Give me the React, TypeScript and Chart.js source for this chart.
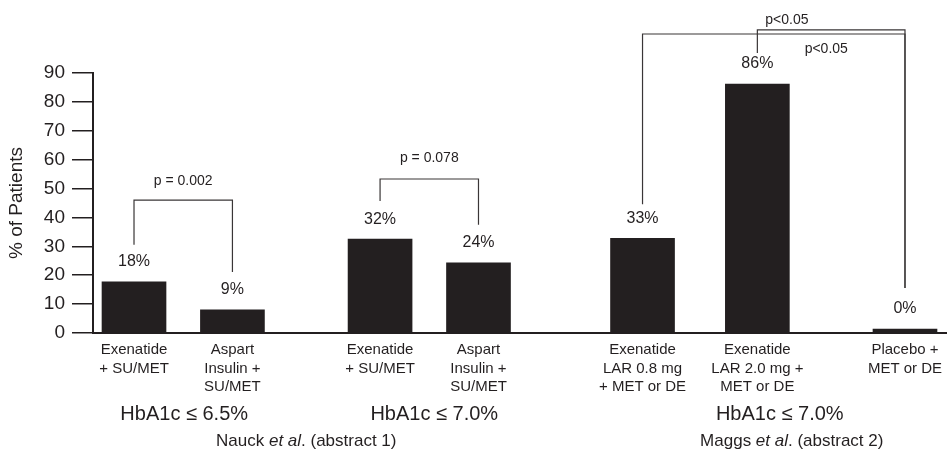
import { useEffect, useRef } from "react";
import { Chart, registerables } from "chart.js";

Chart.register(...registerables);

// ---- data ----
const categories: string[][] = [
  ["Exenatide", "+ SU/MET"],
  ["Aspart", "Insulin +", "SU/MET"],
  ["Exenatide", "+ SU/MET"],
  ["Aspart", "Insulin +", "SU/MET"],
  ["Exenatide", "LAR 0.8 mg", "+ MET or DE"],
  ["Exenatide", "LAR 2.0 mg +", "MET or DE"],
  ["Placebo +", "MET or DE"],
];
const values = [17.7, 8.0, 32.5, 24.3, 32.8, 86.2, 1.4];
const valueLabels = ["18%", "9%", "32%", "24%", "33%", "86%", "0%"];
// empty category slots placed before each bar (spacing of the groups)
const spacersBefore = [2, 5, 8, 5, 9, 6, 8];
const spacersAfter = 2;

const yTicksMax = 90;
const yTicksStep = 10;
const yTitle = "% of Patients";

const criteria = ["HbA1c ≤ 6.5%", "HbA1c ≤ 7.0%", "HbA1c ≤ 7.0%"];
const criteriaBars = [[0, 1], [2, 3], [4, 6]];
const criteriaShift = [1, 5, 6];

const studyNames = ["Nauck", "Maggs"];
const studyRefs = ["(abstract 1)", "(abstract 2)"];
const studyBars = [[0, 3], [4, 6]];
const studyShift = [0, 18];

const comparisons = [
  { from: 0, to: 1, level: 46, label: "p = 0.002", labelAt: 0.5, labelDy: -19, dropFrom: 37, dropTo: 38 },
  { from: 2, to: 3, level: 53.3, label: "p = 0.078", labelAt: 0.5, labelDy: -21, dropFrom: 38, dropTo: 38 },
  { from: 5, to: 6, level: 104.9, label: "p<0.05", labelAt: 0.2, labelDy: -10, dropFrom: 31, dropTo: 41 },
  { from: 4, to: 6, level: 103.5, label: "p<0.05", labelAt: 0.7, labelDy: 15, dropFrom: 34, dropTo: 41 },
];

const FONT = "'Liberation Sans', Arial, Helvetica, sans-serif";
const INK = "#231f20";
const LINE = "#3a3637";

export default function App() {
  const ref = useRef<HTMLCanvasElement>(null);

  useEffect(() => {
    const labels: (string | string[])[] = [];
    const data: (number | null)[] = [];
    const barSlots: number[] = [];
    categories.forEach((c, i) => {
      for (let s = 0; s < spacersBefore[i]; s++) {
        labels.push("");
        data.push(null);
      }
      barSlots.push(labels.length);
      labels.push(c);
      data.push(values[i]);
    });
    for (let s = 0; s < spacersAfter; s++) {
      labels.push("");
      data.push(null);
    }

    const annotations = {
      id: "annotations",
      afterDraw(chart: any) {
        const ctx: CanvasRenderingContext2D = chart.ctx;
        const meta = chart.getDatasetMeta(0);
        const ys = chart.scales.y;
        const bars = barSlots.map((i) => meta.data[i] as any);
        ctx.save();
        ctx.fillStyle = INK;
        ctx.textAlign = "center";
        ctx.textBaseline = "middle";

        // value labels
        ctx.font = `16px ${FONT}`;
        bars.forEach((b, i) => ctx.fillText(valueLabels[i], b.x, b.y - 20));

        // significance brackets
        ctx.strokeStyle = LINE;
        ctx.lineWidth = 1.2;
        ctx.font = `14px ${FONT}`;
        comparisons.forEach((c) => {
          const A = bars[c.from];
          const B = bars[c.to];
          const yl = ys.getPixelForValue(c.level);
          ctx.beginPath();
          ctx.moveTo(A.x, A.y - c.dropFrom);
          ctx.lineTo(A.x, yl);
          ctx.lineTo(B.x, yl);
          ctx.lineTo(B.x, B.y - c.dropTo);
          ctx.stroke();
          ctx.fillText(c.label, A.x + (B.x - A.x) * c.labelAt, yl + c.labelDy);
        });

        // group criteria
        const bottom = chart.chartArea.bottom;
        ctx.font = `20px ${FONT}`;
        criteria.forEach((t, i) => {
          const [a, b] = criteriaBars[i];
          const cx = (bars[a].x + bars[b].x) / 2 + criteriaShift[i];
          ctx.fillText(t, cx, bottom + 81);
        });

        // studies (with italic "et al.")
        ctx.textAlign = "left";
        studyNames.forEach((name, i) => {
          const [a, b] = studyBars[i];
          const cx = (bars[a].x + bars[b].x) / 2 + studyShift[i];
          const reg = `17px ${FONT}`;
          const ita = `italic 17px ${FONT}`;
          const p1 = name + " ";
          const p2 = "et al";
          const p3 = ". " + studyRefs[i];
          ctx.font = reg;
          const w1 = ctx.measureText(p1).width;
          const w3 = ctx.measureText(p3).width;
          ctx.font = ita;
          const w2 = ctx.measureText(p2).width;
          let x = cx - (w1 + w2 + w3) / 2;
          const y = bottom + 108;
          ctx.font = reg;
          ctx.fillText(p1, x, y);
          x += w1;
          ctx.font = ita;
          ctx.fillText(p2, x, y);
          x += w2;
          ctx.font = reg;
          ctx.fillText(p3, x, y);
        });
        ctx.restore();
      },
    };

    const chart = new Chart(ref.current!, {
      type: "bar",
      data: {
        labels,
        datasets: [
          {
            data,
            backgroundColor: INK,
            barThickness: 64,
            skipNull: true,
          } as any,
        ],
      },
      options: {
        animation: false,
        responsive: false,
        layout: { padding: { top: 73, right: 3, left: 0, bottom: 0 } },
        plugins: { legend: { display: false }, tooltip: { enabled: false } },
        scales: {
          x: {
            grid: { display: false, drawTicks: false },
            border: { display: true, color: INK, width: 2 },
            ticks: {
              autoSkip: false,
              maxRotation: 0,
              minRotation: 0,
              padding: 8,
              color: INK,
              font: { family: FONT, size: 15, lineHeight: 1.23 },
            },
            afterFit: (s: any) => {
              s.height = 141;
            },
          },
          y: {
            min: 0,
            max: yTicksMax,
            ticks: {
              stepSize: yTicksStep,
              autoSkip: false,
              padding: 7,
              color: INK,
              font: { family: FONT, size: 19 },
            },
            grid: { drawOnChartArea: false, drawTicks: true, tickLength: 21, color: INK, lineWidth: 1.5 },
            border: { display: true, color: INK, width: 2 },
            title: {
              display: true,
              text: yTitle,
              color: INK,
              font: { family: FONT, size: 19 },
              padding: { top: 5, bottom: 0 },
            },
            afterFit: (s: any) => {
              s.width = 93;
            },
          },
        },
      },
      plugins: [annotations],
    });
    return () => chart.destroy();
  }, []);

  return (
    <div style={{ position: "fixed", left: 0, top: 0, width: 949, height: 474, background: "#fff" }}>
      <canvas ref={ref} width={949} height={474} style={{ display: "block", width: 949, height: 474 }} />
    </div>
  );
}
